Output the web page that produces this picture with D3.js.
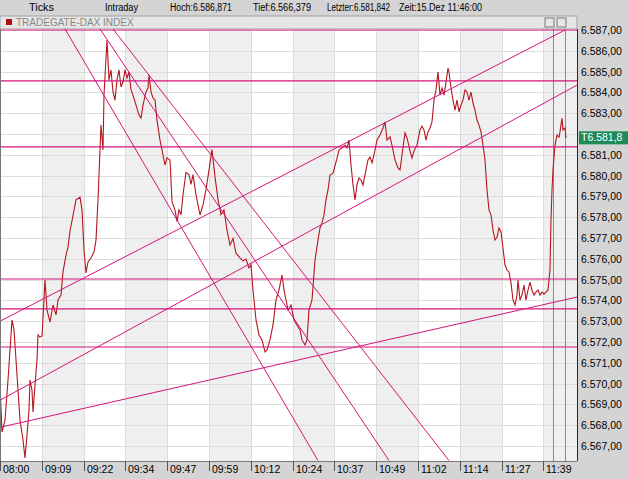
<!DOCTYPE html>
<html>
<head>
<meta charset="UTF-8">
<script src="https://cdn.jsdelivr.net/npm/d3@7"></script>
<style>
  body { margin: 0; background: #d4d4d4; font-family: Arial, "Liberation Sans", sans-serif; }
  svg text { font-family: Arial, "Liberation Sans", sans-serif; }
</style>
</head>
<body>
<svg id="chart" width="628" height="479"></svg>
<script>
// x = tick number (chart is tick based), y = index level
var tickIdx = [0,2,5,8,12,14,17,20,23,25,27,29,30,32,33,35,37,38,40,42,45,47,50,53,56,58,61,63,66,68,70,73,76,80,82,84,86,88,91,94,96,98,100,101,103,104,107,
  109,111,113,115,117,119,121,123,125,127,129,131,133,136,139,141,143,146,148,149,151,153,155,157,160,163,165,167,170,172,175,177,179,181,183,186,189,191,193,196,200,203,206,209,212,215,218,221,224,227,230,233,236,240,243,246,249,251,253,256,259,262,265,267,270,273,276,279,282,284,286,288,291,294,297,300,302,305,307,309,312,315,318,320,322,324,326,328,330,333,336,339,342,345,347,349,351,353,355,357,359,361,363,365,368,370,372,374,377,380,383,385,387,390,392,395,398,400,402,405,407,410,412,414,417,420,422,424,426,428,430,432,434,436,438,440,442,444,446,448,449,451,453,455,457,459,461,463,465,467,469,471,473,475,477,479,481,483,485,487,489,491,493,495,497,499,501,503,505,507,509,511,513,515,517,518,520,522,524,526,528,530,532,534,536,538,540,542,544,546,548,550,551,552,553,555,557,559,560,562,563,565,566];
var price = [6569.93,6567.67,6568.25,6570.17,6573.06,6572.58,6570.41,6568.25,6567.29,6566.42,6567.53,6568.73,6570.17,6569.69,6568.63,6569.93,6571.13,6572.34,6572.24,6572.29,6574.98,6573.54,6572.96,6573.78,6573.30,6574.02,6574.26,6575.37,6576.18,6576.56,6577.35,6578.07,6578.84,6578.96,6578.35,6576.42,6575.32,6575.85,6576.04,6576.33,6576.90,6578.83,6581.23,6582.43,6581.23,6583.88,6586.52,
  6584.60,6585.08,6584.02,6583.63,6584.60,6585.08,6584.26,6584.50,6585.08,6584.69,6584.98,6584.12,6583.87,6583.39,6582.91,6582.77,6583.39,6584.02,6584.21,6584.84,6584.02,6583.73,6583.63,6582.67,6581.71,6580.99,6580.51,6580.85,6580.75,6578.75,6578.35,6577.79,6578.35,6578.11,6579.08,6580.15,6580.05,6579.58,6580.05,6579.08,6578.11,6578.59,6579.31,6580.27,6581.25,6579.94,6578.85,6578.13,6578.35,6577.38,6576.66,6576.98,6576.27,6576.05,6575.90,6575.99,6575.56,6575.72,6574.49,6573.06,6572.34,6572.10,6571.52,6571.62,6572.10,6572.82,6574.02,6574.51,6575.22,6574.51,6574.02,6573.54,6573.78,6573.06,6572.82,6572.58,6572.10,6571.86,6572.10,6573.54,6574.02,6575.94,6576.90,6577.48,6577.72,6578.11,6578.83,6579.31,6580.03,6580.12,6580.65,6581.23,6581.33,6581.47,6581.33,6581.71,6580.51,6579.55,6578.83,6579.55,6579.88,6579.79,6579.55,6580.03,6580.75,6580.89,6580.61,6580.99,6581.71,6581.95,6582.29,6582.58,6581.71,6581.86,6581.47,6580.75,6580.37,6580.27,6580.99,6582.05,6581.81,6581.19,6580.85,6581.19,6581.47,6582.19,6582.38,6582.19,6581.71,6582.10,6582.29,6582.58,6583.63,6584.12,6584.98,6583.87,6584.21,6583.87,6584.50,6585.17,6584.98,6584.21,6583.63,6583.15,6583.63,6583.06,6583.39,6583.63,6584.12,6584.02,6583.63,6584.02,6583.49,6583.15,6582.67,6582.43,6582.10,6581.47,6580.75,6579.31,6578.35,6578.11,6577.38,6576.90,6577.05,6577.48,6577.29,6576.52,6575.70,6575.46,6575.37,6574.84,6574.02,6573.78,6574.26,6574.98,6574.02,6574.26,6574.74,6574.02,6574.50,6574.88,6574.50,6574.26,6574.40,6574.50,6574.26,6574.40,6574.31,6574.40,6574.50,6575.46,6577.87,6579.31,6580.27,6581.47,6581.95,6581.85,6582.10,6582.77,6582.19,6582.29,6581.81];

var xLabels = ["08:00","09:09","09:22","09:34","09:47","09:59","10:12","10:24","10:37","10:49","11:02","11:14","11:27","11:39"];
var xLabelTicks = [0,42,84,125,167,209,251,293,334,376,418,460,502,543];
var yTicks = d3.range(6567, 6588);
var yLabelTicks = yTicks.filter(v => v !== 6582);
var hLevels = [6587.0, 6584.55, 6581.38, 6575.03, 6573.59, 6571.76];
// trend lines: [tick1, level1, tick2, level2]
var trendLines = [
  [0, 6573.0, 565, 6587.0],
  [0, 6569.2, 577, 6584.35],
  [0, 6567.9, 577, 6574.16],
  [65, 6587.05, 318, 6566.3],
  [100, 6587.05, 389, 6566.3],
  [113, 6587.05, 449, 6566.3]
];
var lastValue = "T6.581,8";

var svg = d3.select("#chart");
var L = 0, R = 577, T = 29, B = 461;
var x = d3.scaleLinear().domain([0, 577]).range([L, R]);
var y = d3.scaleLinear().domain([6567, 6587]).range([446, 30]);
var fmt = function(v){ return "6." + d3.format(".2f")(v - 6000).replace(".", ","); };

// header strip
svg.append("rect").attr("width", 628).attr("height", 479).attr("fill", "#d4d4d4");
var head = [["Ticks",29,25],["Intraday",105,33],["Hoch:6.586,871",170,62],["Tief:6.566,379",253,58],["Letzter:6.581,842",327,63],["Zeit:15.Dez 11:46:00",399,83]];
svg.selectAll(".hd").data(head).join("text").attr("x", d => d[1]).attr("y", 11)
  .attr("font-size", 10).attr("fill", "#000")
  .attr("textLength", d => d[2]).attr("lengthAdjust", "spacingAndGlyphs").text(d => d[0]);
svg.append("rect").attr("x", 0).attr("y", 16).attr("width", 577).attr("height", 13).attr("fill", "#e6e6e6").attr("stroke", "#a0a0a0");
svg.append("rect").attr("x", 6).attr("y", 19).attr("width", 6).attr("height", 6).attr("fill", "#b01010");
svg.append("text").attr("x", 16).attr("y", 26).attr("font-size", 10).attr("fill", "#888").text("TRADEGATE-DAX INDEX");
svg.append("rect").attr("x", 545).attr("y", 18).attr("width", 9).attr("height", 9).attr("fill", "none").attr("stroke", "#777");
svg.append("rect").attr("x", 557).attr("y", 18).attr("width", 9).attr("height", 9).attr("fill", "none").attr("stroke", "#777");

// plot background with alternating bands
var g = svg.append("g");
g.append("rect").attr("x", L).attr("y", T).attr("width", R - L).attr("height", B - T).attr("fill", "#fff");
g.selectAll(".band").data(xLabelTicks).join("rect")
  .attr("x", d => x(d)).attr("y", T)
  .attr("width", (d, i) => x(i + 1 < xLabelTicks.length ? xLabelTicks[i + 1] : 577) - x(d))
  .attr("height", B - T).attr("fill", (d, i) => i % 2 ? "#efefef" : "#fff");
g.selectAll(".vg").data(xLabelTicks).join("line")
  .attr("x1", d => x(d) + 0.5).attr("x2", d => x(d) + 0.5).attr("y1", T).attr("y2", B).attr("stroke", "#dcdcdc");
g.selectAll(".hg").data(yTicks).join("line")
  .attr("x1", L).attr("x2", R).attr("y1", d => Math.round(y(d)) + 0.5).attr("y2", d => Math.round(y(d)) + 0.5).attr("stroke", "#dcdcdc");
[553, 565].forEach(function(t){
  g.append("line").attr("x1", x(t) + 0.5).attr("x2", x(t) + 0.5).attr("y1", T).attr("y2", B).attr("stroke", "#8a8a8a");
});

svg.append("clipPath").attr("id", "pc").append("rect").attr("x", L).attr("y", T).attr("width", R - L).attr("height", B - T);
var pg = svg.append("g").attr("clip-path", "url(#pc)");

// price line
pg.append("path").datum(d3.zip(tickIdx, price))
  .attr("fill", "none").attr("stroke", "#b5161e").attr("stroke-width", 1.1)
  .attr("d", d3.line().x(d => x(d[0])).y(d => y(d[1])));

// horizontal levels and trend lines
pg.selectAll(".lvl").data(hLevels).join("line")
  .attr("x1", L).attr("x2", R).attr("y1", d => y(d)).attr("y2", d => y(d))
  .attr("stroke", "#d4147a").attr("stroke-width", 1.2);
pg.selectAll(".tl").data(trendLines).join("line")
  .attr("x1", d => x(d[0])).attr("y1", d => y(d[1])).attr("x2", d => x(d[2])).attr("y2", d => y(d[3]))
  .attr("stroke", "#d4147a").attr("stroke-width", 1);

// frame
svg.append("line").attr("x1", R + 0.5).attr("x2", R + 0.5).attr("y1", T).attr("y2", B).attr("stroke", "#1a1a8a");
svg.append("line").attr("x1", 0.5).attr("x2", 0.5).attr("y1", T).attr("y2", B).attr("stroke", "#777");
svg.append("line").attr("x1", 0).attr("x2", R).attr("y1", B + 0.5).attr("y2", B + 0.5).attr("stroke", "#777");

// right axis
svg.selectAll(".yl").data(yLabelTicks).join("text")
  .attr("x", 581).attr("y", d => y(d) + 4).attr("font-size", 10.5).attr("fill", "#000").text(fmt);
svg.append("rect").attr("x", 579).attr("y", y(6581.84) - 6).attr("width", 49).attr("height", 13).attr("fill", "#1e8a5a");
svg.append("text").attr("x", 581).attr("y", y(6581.84) + 4).attr("font-size", 10.5).attr("fill", "#fff").text(lastValue);

// bottom axis
svg.selectAll(".xt").data(xLabelTicks).join("line")
  .attr("x1", d => x(d) + 0.5).attr("x2", d => x(d) + 0.5).attr("y1", B).attr("y2", B + 10).attr("stroke", "#555");
svg.selectAll(".xl").data(xLabels).join("text")
  .attr("x", (d, i) => x(xLabelTicks[i]) + 3).attr("y", 473).attr("font-size", 10.5).attr("fill", "#000").text(d => d);
</script>
</body>
</html>
